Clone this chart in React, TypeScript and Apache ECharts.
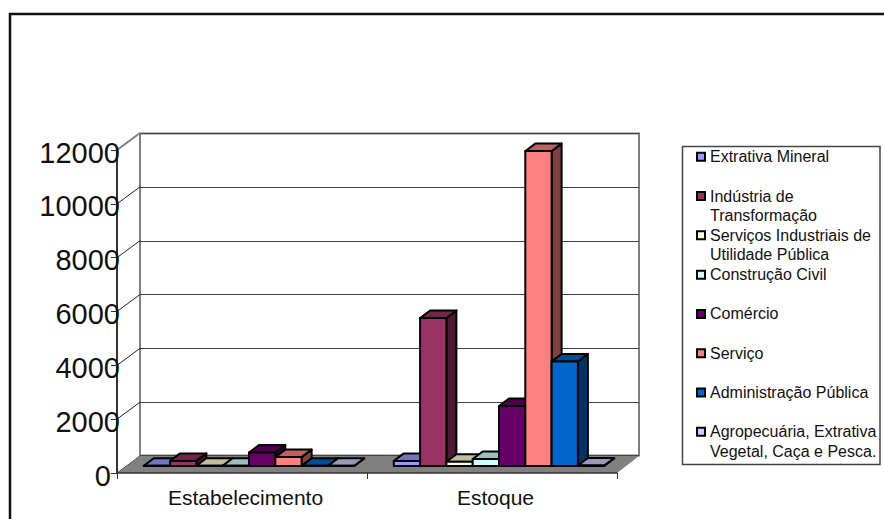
import React, { useEffect, useRef } from "react";
import * as echarts from "echarts";

const categories = ["Estabelecimento", "Estoque"];
const sectors = [
  "Extrativa Mineral",
  "Indústria de Transformação",
  "Serviços Industriais de Utilidade Pública",
  "Construção Civil",
  "Comércio",
  "Serviço",
  "Administração Pública",
  "Agropecuária, Extrativa Vegetal, Caça e Pesca.",
];
const legendLines: Record<string, string> = {
  "Indústria de Transformação": "Indústria de\nTransformação",
  "Serviços Industriais de Utilidade Pública": "Serviços Industriais de\nUtilidade Pública",
  "Agropecuária, Extrativa Vegetal, Caça e Pesca.": "Agropecuária, Extrativa\nVegetal, Caça e Pesca.",
};
const estabelecimento = [10, 190, 10, 10, 500, 330, 5, 5];
const estoque = [190, 5500, 160, 260, 2230, 11700, 3880, 20];
const sectorColors = ["#9999FF", "#993366", "#FFFFCC", "#CCFFFF", "#660066", "#FF8080", "#0066CC", "#CCCCFF"];
const yTicks = [0, 2000, 4000, 6000, 8000, 10000, 12000];

// Pseudo-3D projection, in pixels
const WALL_DX = 23;
const WALL_DY = 17;
const BAR_DX = 10;
const BAR_DY = 7.5;
const BAR_LIFT = 7; // bars stand a little way into the floor
const BAR_WIDTH = 26.3;
const GROUP_SHIFT = 7;

const FONT = "'Liberation Sans', Arial, sans-serif";

function shade(hex: string, k: number) {
  const n = parseInt(hex.slice(1), 16);
  const c = [(n >> 16) & 255, (n >> 8) & 255, n & 255].map((v) => Math.round(v * k));
  return `rgb(${c[0]},${c[1]},${c[2]})`;
}

function barSeries(name: string, index: number) {
  const color = sectorColors[index];
  return {
    type: "custom",
    name,
    xAxisIndex: 0,
    yAxisIndex: 0,
    coordinateSystem: "cartesian2d",
    itemStyle: { color },
    z: 4,
    data: [
      [0, estabelecimento[index]],
      [1, estoque[index]],
    ],
    renderItem: (_params: any, api: any) => {
      const top = api.coord([api.value(0), api.value(1)]);
      const base = api.coord([api.value(0), 0]);
      const x0 = top[0] + GROUP_SHIFT - (BAR_WIDTH * sectors.length) / 2 + index * BAR_WIDTH;
      const x1 = x0 + BAR_WIDTH;
      const yTop = top[1] - BAR_LIFT;
      const yBase = base[1] - BAR_LIFT;
      const edge = { stroke: "#000", lineWidth: 2, lineJoin: "round" };
      return {
        type: "group",
        children: [
          {
            type: "polygon",
            shape: { points: [[x1, yTop], [x1 + BAR_DX, yTop - BAR_DY], [x1 + BAR_DX, yBase - BAR_DY], [x1, yBase]] },
            style: { fill: shade(color, 0.5), ...edge },
          },
          {
            type: "polygon",
            shape: { points: [[x0, yTop], [x0 + BAR_DX, yTop - BAR_DY], [x1 + BAR_DX, yTop - BAR_DY], [x1, yTop]] },
            style: { fill: shade(color, 0.75), ...edge },
          },
          {
            type: "polygon",
            shape: { points: [[x0, yTop], [x1, yTop], [x1, yBase], [x0, yBase]] },
            style: { fill: color, ...edge },
          },
        ],
      };
    },
  };
}

export default function App() {
  const ref = useRef<HTMLDivElement>(null);

  useEffect(() => {
    document.body.style.margin = "0";
    const chart = echarts.init(ref.current!, undefined, { renderer: "svg" });
    chart.setOption({
      animation: false,
      backgroundColor: "#fff",
      textStyle: { fontFamily: FONT },
      grid: [
        { left: 117, top: 150, width: 500, height: 323, containLabel: false },
        {
          left: 140,
          top: 133.5,
          width: 499,
          height: 322,
          show: true,
          borderColor: "#808080",
          borderWidth: 2,
          containLabel: false,
        },
      ],
      xAxis: [
        {
          type: "category",
          gridIndex: 0,
          data: categories,
          z: 6,
          axisLine: { lineStyle: { color: "#333", width: 1.5 } },
          axisTick: { show: true, length: 6, lineStyle: { color: "#333", width: 1 } },
          axisLabel: {
            color: "#111",
            fontSize: 21,
            fontFamily: FONT,
            margin: 14,
            padding: [0, 0, 0, 7],
          },
        },
        { type: "category", gridIndex: 1, data: categories, show: false },
      ],
      yAxis: [
        {
          type: "value",
          gridIndex: 0,
          min: 0,
          max: 12000,
          interval: 2000,
          z: 6,
          splitLine: { show: false },
          axisLine: { show: true, lineStyle: { color: "#333", width: 2 } },
          axisTick: { show: true, length: 6, lineStyle: { color: "#333", width: 1 } },
          axisLabel: {
            color: "#111",
            fontSize: 29,
            fontFamily: FONT,
            margin: -3,
            padding: [5, 0, 0, 0],
            formatter: (v: number) => (v === 0 ? "{zero|0}" : String(v)),
            rich: { zero: { fontSize: 29, fontFamily: FONT, color: "#111", padding: [0, 9, 0, 0] } },
          },
        },
        {
          type: "value",
          gridIndex: 1,
          min: 0,
          max: 12000,
          interval: 2000,
          axisLine: { show: false },
          axisTick: { show: false },
          axisLabel: { show: false },
          splitLine: { show: true, lineStyle: { color: "#444", width: 1 } },
        },
      ],
      legend: {
        orient: "vertical",
        left: 696,
        top: 127.5,
        padding: 0,
        itemWidth: 8,
        itemHeight: 8,
        itemGap: -19.2,
        icon: "rect",
        data: sectors,
        selectedMode: false,
        itemStyle: { borderColor: "#000", borderWidth: 2 },
        textStyle: { color: "#111", fontSize: 16, lineHeight: 19.5, fontFamily: FONT, padding: [0, 0, 0, 0] },
        // Three lines per entry so the swatch lines up with the first line of text
        formatter: (name: string) => {
          const text = legendLines[name] ?? `${name}\n `;
          return `\n${text}`;
        },
      },
      graphic: [
        {
          type: "rect",
          silent: true,
          z: -1,
          shape: { x: 10, y: 14, width: 1000, height: 700 },
          style: { fill: "none", stroke: "#111", lineWidth: 2.5 },
        },
        {
          type: "rect",
          silent: true,
          z: -1,
          shape: { x: 682.5, y: 146.5, width: 197.5, height: 318 },
          style: { fill: "#fff", stroke: "#444", lineWidth: 1.5 },
        },
      ],
      series: [
        {
          type: "custom",
          name: "paredes",
          xAxisIndex: 0,
          yAxisIndex: 0,
          z: 2,
          silent: true,
          data: yTicks.map((t) => [0, t]),
          renderItem: (params: any, api: any) => {
            const y = api.coord([0, api.value(1)])[1];
            const x = params.coordSys.x;
            const isTop = api.value(1) === 12000;
            return {
              type: "line",
              shape: { x1: x, y1: y, x2: x + WALL_DX, y2: y - WALL_DY },
              style: { stroke: isTop ? "#808080" : "#222", lineWidth: isTop ? 2 : 1 },
            };
          },
        },
        {
          type: "custom",
          name: "piso",
          xAxisIndex: 0,
          yAxisIndex: 0,
          z: 3,
          silent: true,
          data: [[0, 0]],
          renderItem: (params: any, api: any) => {
            const y = api.coord([0, 0])[1];
            const { x, width } = params.coordSys;
            return {
              type: "polygon",
              shape: {
                points: [
                  [x, y],
                  [x + width, y],
                  [x + width + WALL_DX - 1, y - WALL_DY],
                  [x + WALL_DX, y - WALL_DY],
                ],
              },
              style: { fill: "#808080" },
            };
          },
        },
        ...sectors.map(barSeries),
      ],
    });
    return () => chart.dispose();
  }, []);

  return <div ref={ref} style={{ position: "absolute", left: 0, top: 0, width: 884, height: 519 }} />;
}
